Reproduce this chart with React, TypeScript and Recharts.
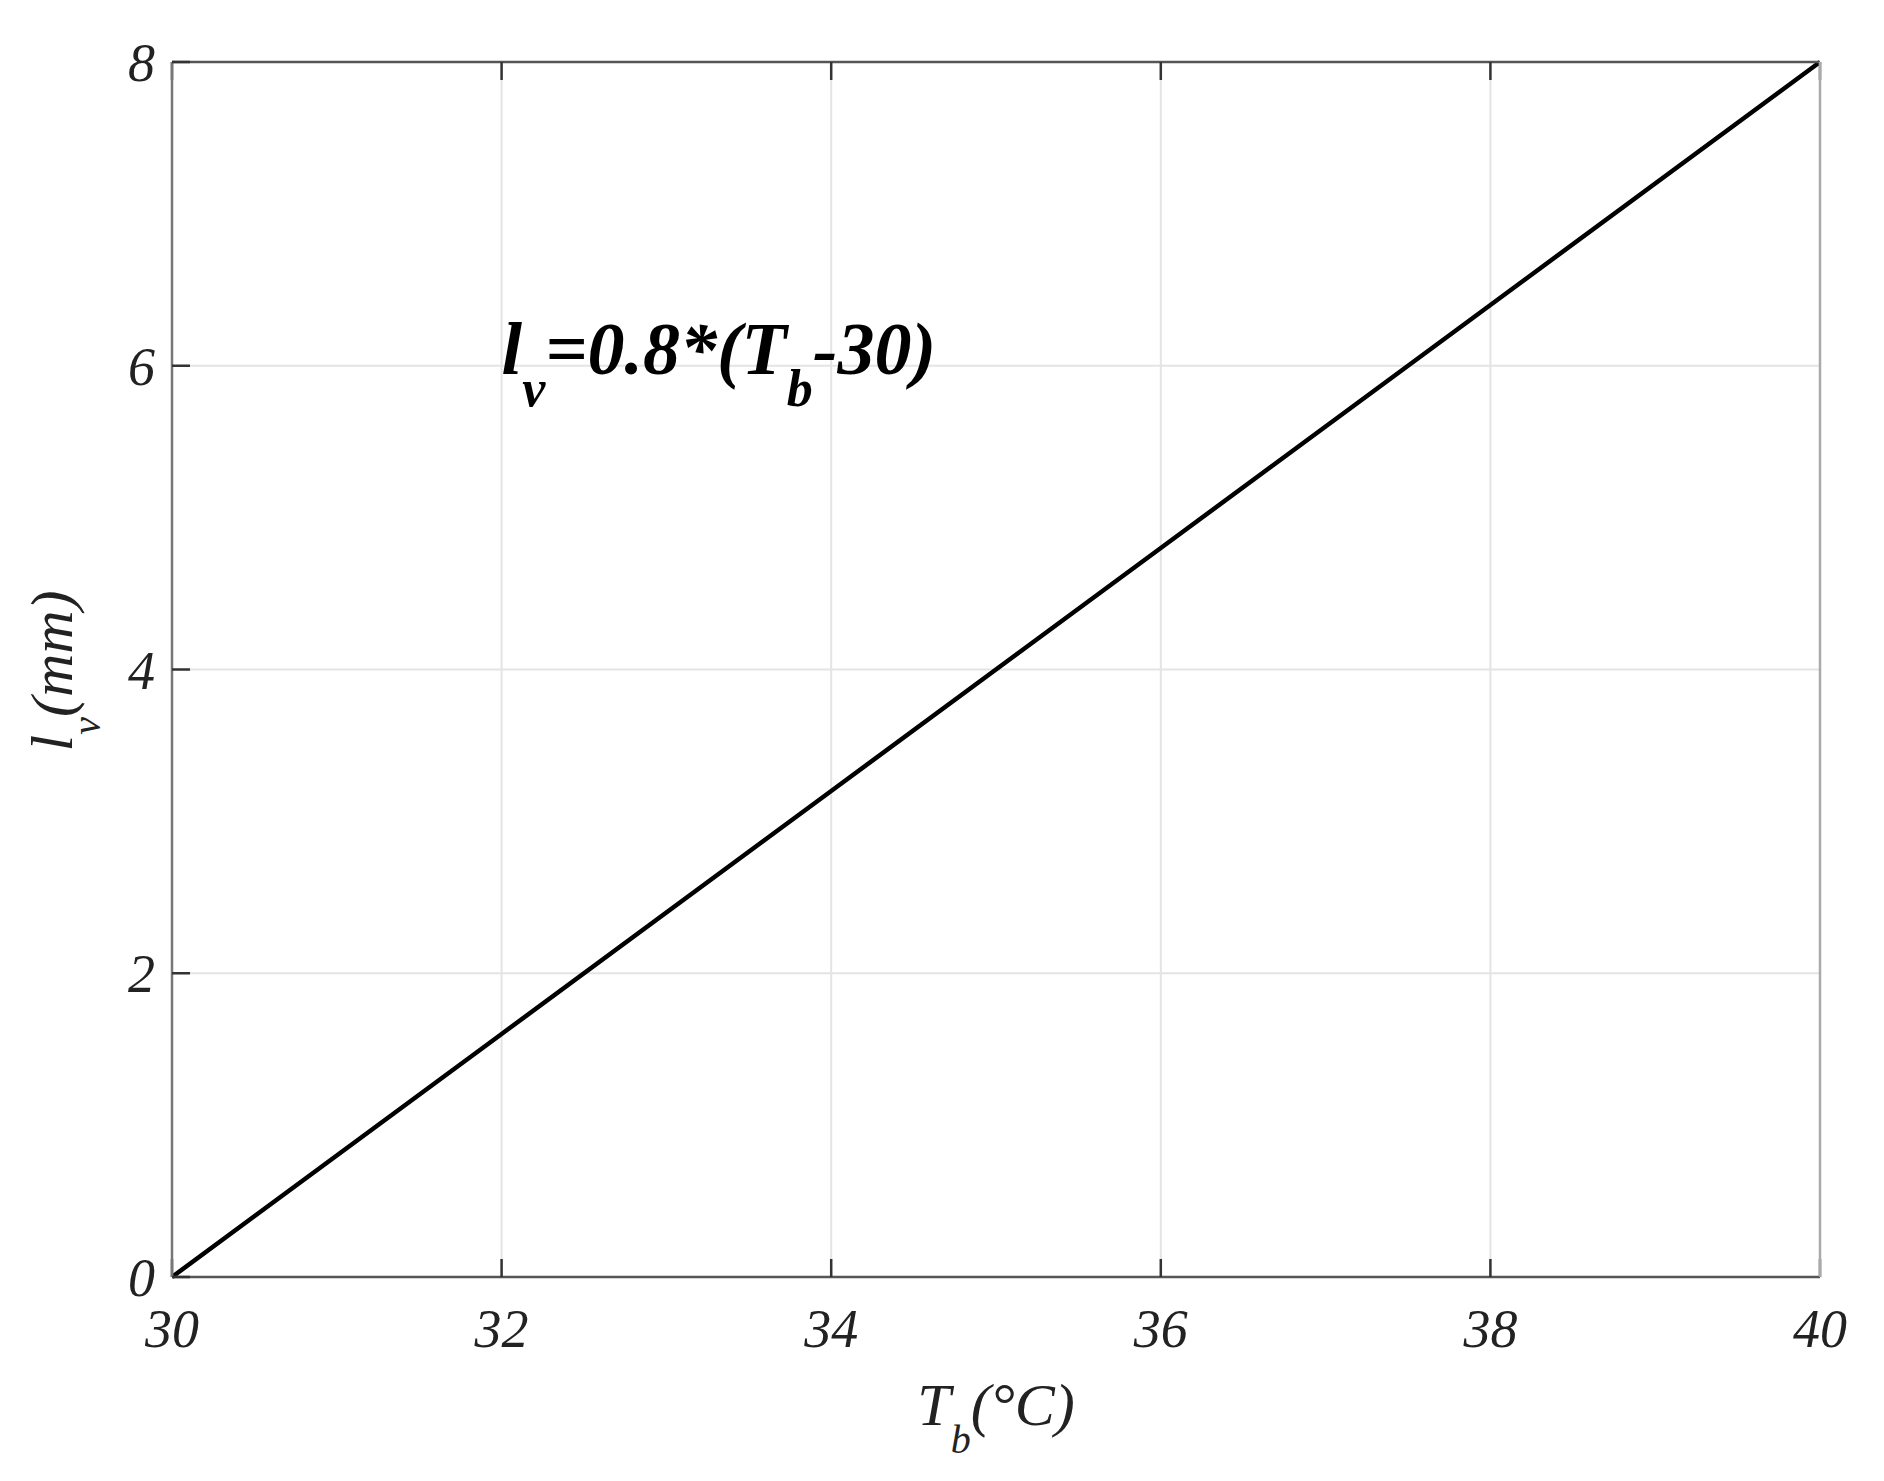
import { LineChart, Line, XAxis, YAxis, CartesianGrid, ReferenceDot } from 'recharts';

// axis ticks
const tempTicks = [30, 32, 34, 36, 38, 40];
const lengthTicks = [0, 2, 4, 6, 8];

// series: l_v against T_b
const tempValues = [30, 32, 34, 36, 38, 40];
const lengthValues = [0, 1.6, 3.2, 4.8, 6.4, 8];

const data = tempValues.map((t, i) => ({ tb: t, lv: lengthValues[i] }));

const W = 1884;
const H = 1481;
const serif = "'Liberation Serif', 'Times New Roman', serif";

const tickStyle = {
    fontFamily: serif,
    fontStyle: 'italic',
    fontSize: 54,
    fill: '#222',
};

const tickMark = { stroke: '#333', strokeWidth: 2.5 };
const noLabel = () => <g />;

const XLabel = () => (
    <text x={996} y={1425} textAnchor="middle" fontFamily={serif} fontStyle="italic" fontSize={60} fill="#222">
        <tspan>T</tspan>
        <tspan fontSize={40} dy={28}>b</tspan>
        <tspan dy={-28}>(°C)</tspan>
    </text>
);

const YLabel = () => (
    <text
        x={72}
        y={671}
        transform="rotate(-90, 72, 671)"
        textAnchor="middle"
        fontFamily={serif}
        fontStyle="italic"
        fontSize={60}
        fill="#222"
    >
        <tspan>l</tspan>
        <tspan fontSize={40} dy={28}>v</tspan>
        <tspan dy={-28}>(mm)</tspan>
    </text>
);

// formula text, left edge at (32, 6) like the original text() call
const Formula = (p: any) => (
    <text x={p.cx} y={p.cy + 8} fontFamily={serif} fontStyle="italic" fontWeight="bold" fontSize={74} fill="#000">
        <tspan>l</tspan>
        <tspan fontSize={52} dy={32}>v</tspan>
        <tspan dy={-32}>=0.8*(T</tspan>
        <tspan fontSize={52} dy={32}>b</tspan>
        <tspan dy={-32}>-30)</tspan>
    </text>
);

export default function App() {
    return (
        <div style={{ position: 'absolute', left: 0, top: 0, width: W, height: H, background: '#fff' }}>
            <LineChart width={W} height={H} data={data} margin={{ top: 52, right: 54, bottom: 104, left: 72 }}>
                <CartesianGrid stroke="#e4e4e4" strokeWidth={2} horizontalValues={lengthTicks} verticalValues={tempTicks} />
                <XAxis
                    dataKey="tb"
                    type="number"
                    domain={[30, 40]}
                    ticks={tempTicks}
                    height={100}
                    stroke="#555"
                    strokeWidth={2.5}
                    tickSize={-18}
                    tickMargin={50}
                    tickLine={tickMark}
                    tick={tickStyle}
                    label={<XLabel />}
                />
                <XAxis
                    xAxisId="top"
                    orientation="top"
                    dataKey="tb"
                    type="number"
                    domain={[30, 40]}
                    ticks={tempTicks}
                    height={10}
                    stroke="#555"
                    strokeWidth={2.5}
                    tickSize={-18}
                    tickLine={tickMark}
                    tick={noLabel}
                />
                <YAxis
                    type="number"
                    domain={[0, 8]}
                    ticks={lengthTicks}
                    width={100}
                    stroke="#777"
                    strokeWidth={2.5}
                    tickSize={-18}
                    tickMargin={35}
                    tickLine={tickMark}
                    tick={tickStyle}
                    label={<YLabel />}
                />
                <YAxis
                    yAxisId="right"
                    orientation="right"
                    type="number"
                    domain={[0, 8]}
                    ticks={lengthTicks}
                    width={10}
                    stroke="#aaa"
                    strokeWidth={2.5}
                    tickSize={-18}
                    tickLine={tickMark}
                    tick={noLabel}
                />
                <Line
                    dataKey="lv"
                    type="linear"
                    stroke="#000"
                    strokeWidth={4.5}
                    dot={false}
                    isAnimationActive={false}
                />
                <ReferenceDot x={32} y={6} r={0} shape={Formula} />
            </LineChart>
        </div>
    );
}
